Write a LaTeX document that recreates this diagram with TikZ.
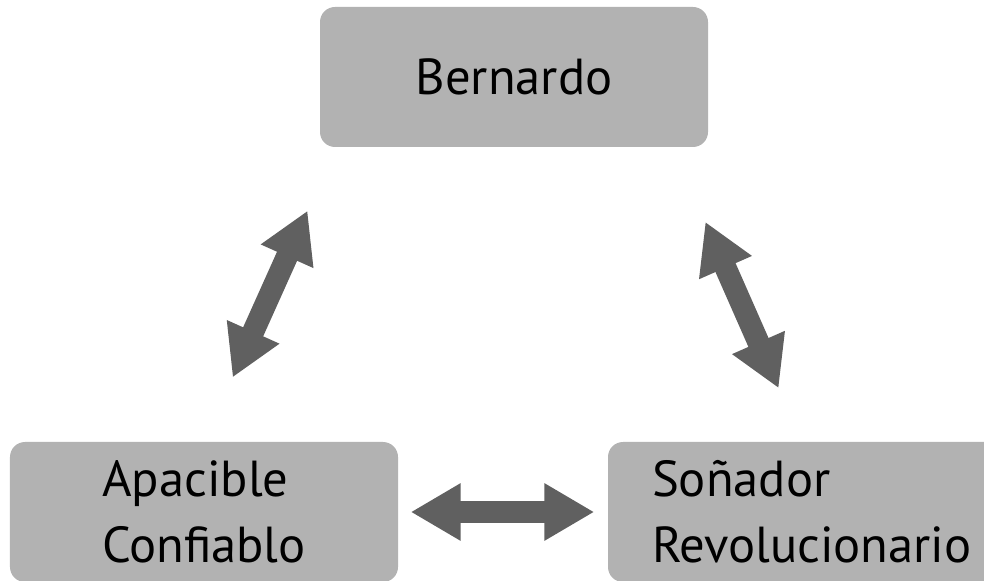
\documentclass[tikz,border=0pt]{standalone}
\usepackage{fontspec}
\setmainfont{PT Sans}
\usetikzlibrary{arrows.meta, positioning, calc}

\definecolor{boxgray}{HTML}{B2B2B2}
\definecolor{arrowgray}{HTML}{606060}

\begin{document}
\begin{tikzpicture}[
    box/.style={fill=boxgray, rounded corners=0.15cm, minimum width=3.88cm, minimum height=1.4cm, align=left, font=\fontsize{14.4}{18.8}\selectfont},
    link/.style={draw=arrowgray, line width=2.2mm, {Triangle[length=5mm, width=5.4mm]}-{Triangle[length=5mm, width=5.4mm]}}
  ]
    \useasboundingbox (0,0) rectangle (9.84,5.80);

    \node[box] (bern) at (5.14,5.03) {Bernardo};
    \node[box] (apac) at (2.04,0.68) {Apacible\\Confiablo};
    \node[box, text width=3.44cm, inner xsep=0.44cm] (sonad) at (8.24,0.68) {Soñador\\Revolucionario};

    \draw[link, shorten <=0.70cm, shorten >=0.69cm] (apac.north) -- ([xshift=0.165cm]bern.south west);
    \draw[link, shorten <=0.81cm, shorten >=0.58cm] ([xshift=-0.36cm]bern.south east) -- ([xshift=-0.22cm]sonad.north);
    \draw[link, shorten <=0.12cm, shorten >=0.13cm] (apac.east) -- (sonad.west);
  \end{tikzpicture}
\end{document}
